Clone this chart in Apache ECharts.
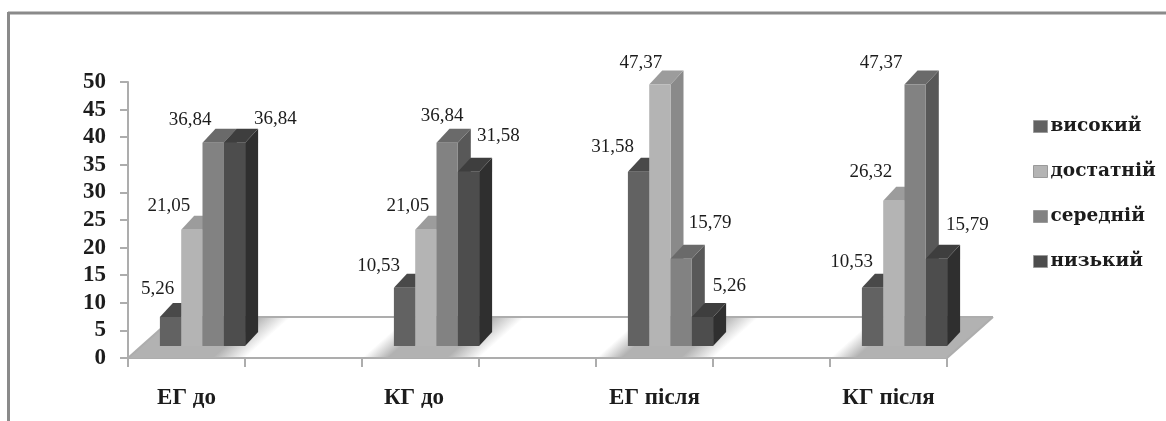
<!DOCTYPE html>
<html>
<head>
<meta charset="utf-8">
<style>
html,body{margin:0;padding:0;background:#fff;overflow:hidden}
#chart{width:1166px;height:421px;filter:blur(0.6px)}
</style>
<script src="https://cdn.jsdelivr.net/npm/echarts@6/dist/echarts.min.js"></script>
</head>
<body>
<div id="chart"></div>
<script>
// ---- data ----
const categories = ['ЕГ до', '', 'КГ до', '', 'ЕГ після', '', 'КГ після'];
const yTicks = { min: 0, max: 50, interval: 5 };
const seriesNames = ['високий', 'достатній', 'середній', 'низький'];
const vysokyi   = [5.26, null, 10.53, null, 31.58, null, 10.53];
const dostatnii = [21.05, null, 21.05, null, 47.37, null, 26.32];
const serednii  = [36.84, null, 36.84, null, 15.79, null, 47.37];
const nyzkyi    = [36.84, null, 31.58, null, 5.26, null, 15.79];

// ---- drawing config ----
const seriesValues = [vysokyi, dostatnii, serednii, nyzkyi];
const faces = [
  { front: '#626262', top: '#494949', side: '#444444' },
  { front: '#b4b4b4', top: '#9c9c9c', side: '#8a8a8a' },
  { front: '#828282', top: '#6a6a6a', side: '#585858' },
  { front: '#4d4d4d', top: '#3e3e3e', side: '#2f2f2f' }
];
const labelNudges = [
  [[-13, -28], [-26, -22], [-26, -25], [-21, -26]],
  [[-23, -24], [-18, -24], [-19, -22], [-23, -29]],
  [[-23, -23], [-5, -27], [29, -36], [-34, -22]],
  [[41, -24], [30, -36], [27, -31], [31, -34]]
];
const BAR_W = 21.3, BAR_DX = 13, BAR_DY = -14, SHIFT_X = 16, SHIFT_Y = -12;
const FLOOR_DX = 46, FLOOR_DY = -41;
const SERIF = '"Liberation Serif", serif';
const FRAME = '#8a8a8a', EDGE = '#adadad';

function fmt(v) { return v.toFixed(2).replace('.', ','); }

function floorItem(params, api) {
  const i = api.value(0);
  const size = api.size([1, 0])[0];
  const c = api.coord([i, 0]);
  const x0 = c[0] - size / 2, x1 = c[0] + size / 2, y = c[1];
  const kids = [];
  const stroke = { stroke: EDGE, lineWidth: 2, fill: null };
  if (i % 2 === 0) {
    const len = Math.hypot(FLOOR_DX, FLOOR_DY);
    const nx = -FLOOR_DY / len, ny = FLOOR_DX / len;
    const across = size * nx;
    const g = '#b2b2b2', w = 'rgba(178,178,178,0)';
    const first = i === 0, last = i === categories.length - 1;
    kids.push({
      type: 'polygon',
      shape: { points: [[x0, y], [x1, y], [x1 + FLOOR_DX, y + FLOOR_DY], [x0 + FLOOR_DX, y + FLOOR_DY]] },
      style: { fill: new echarts.graphic.LinearGradient(x0, y, x0 + nx * across, y + ny * across, [
        { offset: 0, color: first ? g : w },
        { offset: 0.22, color: g },
        { offset: 0.72, color: g },
        { offset: 1, color: last ? g : w }
      ], true) }
    });
  }
  kids.push({ type: 'line', shape: { x1: x0 + FLOOR_DX, y1: y + FLOOR_DY, x2: x1 + FLOOR_DX, y2: y + FLOOR_DY }, style: stroke });
  if (i === 0) kids.push({ type: 'line', shape: { x1: x0, y1: y, x2: x0 + FLOOR_DX, y2: y + FLOOR_DY }, style: stroke });
  if (i === categories.length - 1) kids.push({ type: 'line', shape: { x1: x1, y1: y, x2: x1 + FLOOR_DX, y2: y + FLOOR_DY }, style: stroke });
  return { type: 'group', children: kids };
}

function barRenderer(s) {
  return function (params, api) {
    const i = api.value(0), v = api.value(1);
    const base = api.coord([i, 0]), tip = api.coord([i, v]);
    const left = base[0] + SHIFT_X + (s - 2) * BAR_W;
    const right = left + BAR_W;
    const bottom = base[1] + SHIFT_Y, top = tip[1] + SHIFT_Y;
    const f = faces[s];
    const nudge = labelNudges[s][params.dataIndex];
    return {
      type: 'group',
      children: [
        { type: 'polygon', shape: { points: [[right, bottom], [right + BAR_DX, bottom + BAR_DY], [right + BAR_DX, top + BAR_DY], [right, top]] }, style: { fill: f.side } },
        { type: 'polygon', shape: { points: [[left, top], [right, top], [right + BAR_DX, top + BAR_DY], [left + BAR_DX, top + BAR_DY]] }, style: { fill: f.top } },
        { type: 'rect', shape: { x: left, y: top, width: BAR_W, height: bottom - top }, style: { fill: f.front } },
        { type: 'text', z2: 100, x: (left + right) / 2 + nudge[0], y: top + nudge[1], style: {
          text: fmt(v), fill: '#1c1c1c', font: '19px ' + SERIF, align: 'center', verticalAlign: 'middle'
        } }
      ]
    };
  };
}

const chart = echarts.init(document.getElementById('chart'), null, { renderer: 'canvas' });
chart.setOption({
  animation: false,
  backgroundColor: '#fff',
  grid: { left: 128, top: 82, width: 819, height: 276, containLabel: false },
  graphic: [
    { type: 'line', silent: true, shape: { x1: 8, y1: 13, x2: 1166, y2: 13 }, style: { stroke: FRAME, lineWidth: 3 } },
    { type: 'line', silent: true, shape: { x1: 8.5, y1: 12, x2: 8.5, y2: 421 }, style: { stroke: FRAME, lineWidth: 3 } }
  ],
  legend: {
    orient: 'vertical', left: 1033, top: 117, padding: 0, itemWidth: 14, itemHeight: 12, itemGap: 26,
    icon: 'rect',
    textStyle: { fontFamily: '"DejaVu Serif", serif', fontWeight: 'bold', fontSize: 18.5, color: '#1c1c1c', padding: [0, 0, 0, -2] },
    data: seriesNames.map((n, s) => ({ name: n, itemStyle: { color: faces[s].front, borderColor: '#9a9a9a', borderWidth: 1 } }))
  },
  xAxis: {
    type: 'category', data: categories,
    axisLine: { lineStyle: { color: EDGE, width: 2 } },
    axisTick: { show: true, interval: 0, length: 9, alignWithLabel: false, lineStyle: { color: EDGE, width: 2 } },
    axisLabel: {
      interval: 0, margin: 29, fontFamily: SERIF, fontWeight: 'bold', fontSize: 23, color: '#1c1c1c',
      formatter: (v, i) => i === 2 ? '{shift|' + v + '}' : v,
      rich: { shift: { padding: [0, 13, 0, 0], fontFamily: SERIF, fontWeight: 'bold', fontSize: 23, color: '#1c1c1c' } }
    }
  },
  yAxis: {
    type: 'value', min: yTicks.min, max: yTicks.max, interval: yTicks.interval,
    splitLine: { show: false },
    axisLine: { show: true, lineStyle: { color: EDGE, width: 2 } },
    axisTick: { show: true, length: 8, lineStyle: { color: EDGE, width: 2 } },
    axisLabel: { margin: 22, fontFamily: SERIF, fontWeight: 'bold', fontSize: 23, color: '#1c1c1c' }
  },
  series: [
    {
      type: 'custom', name: 'floor', z: 1, silent: true, renderItem: floorItem,
      encode: { x: 0 }, data: categories.map((c, i) => [i, 0]), clip: false
    }
  ].concat(seriesNames.map((n, s) => ({
    type: 'custom', name: n, z: 2 + s, silent: true, clip: false,
    itemStyle: { color: faces[s].front },
    renderItem: barRenderer(s),
    encode: { x: 0, y: 1 },
    data: seriesValues[s].map((v, i) => [i, v]).filter(d => d[1] !== null)
  })))
});
</script>
</body>
</html>
